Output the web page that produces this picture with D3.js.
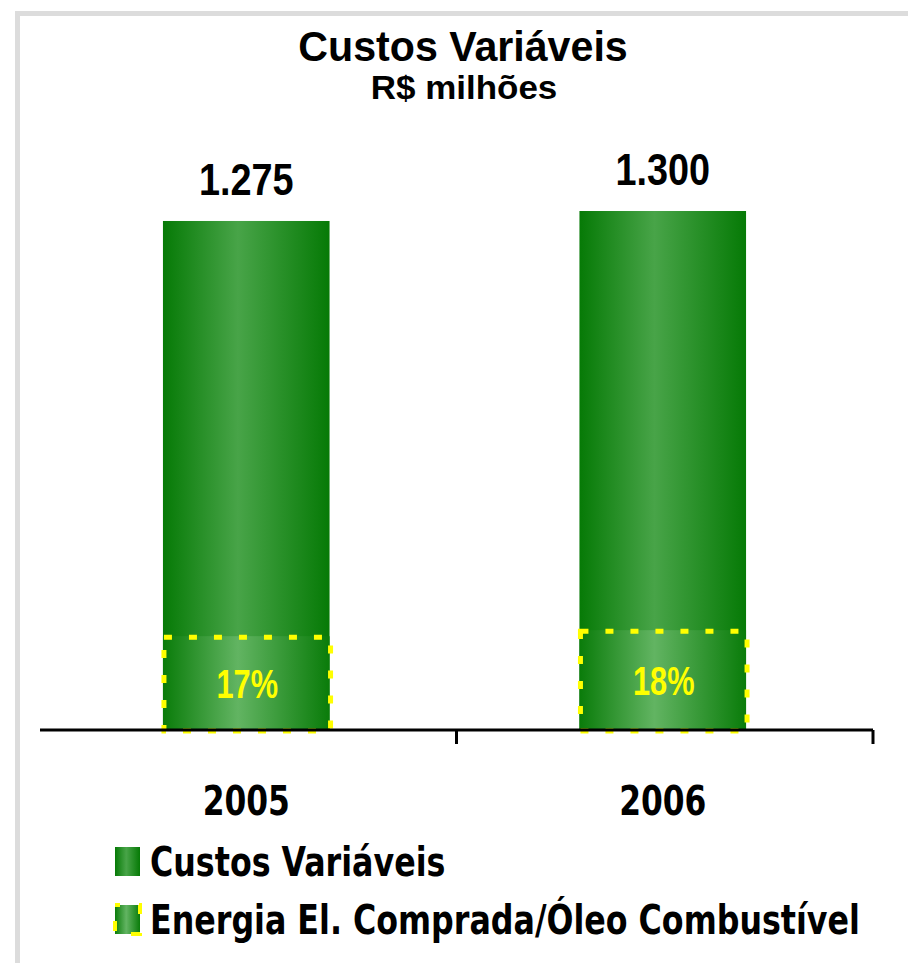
<!DOCTYPE html>
<html>
<head>
<meta charset="utf-8">
<script src="https://cdn.jsdelivr.net/npm/d3@7"></script>
<style>
  html, body { margin: 0; padding: 0; background: #fff; }
  svg { display: block; }
</style>
</head>
<body>
<svg id="chart" width="908" height="963"></svg>
<script>
const years = ["2005", "2006"];
const totals = [1275, 1300];
const totalLabels = ["1.275", "1.300"];
const energia = [235, 250];          // bottom segment, as drawn
const energiaLabels = ["17%", "18%"];
const legendLabels = ["Custos Variáveis", "Energia El. Comprada/Óleo Combustível"];

const svg = d3.select("#chart");
const W = 908, H = 963;

// frame
svg.append("path")
  .attr("d", `M17.5,${H} V13.5 H${W}`)
  .attr("fill", "none")
  .attr("stroke", "#dcdcdc")
  .attr("stroke-width", 5);

// gradients
const defs = svg.append("defs");
function grad(id, edge, mid) {
  const g = defs.append("linearGradient").attr("id", id)
    .attr("x1", "0%").attr("x2", "100%").attr("y1", "0%").attr("y2", "0%");
  g.append("stop").attr("offset", "0%").attr("stop-color", edge);
  g.append("stop").attr("offset", "45%").attr("stop-color", mid);
  g.append("stop").attr("offset", "100%").attr("stop-color", edge);
}
grad("gTop", "#067a06", "#48a448");
grad("gBot", "#0a7c0a", "#62b462");

// titles
svg.append("text")
  .attr("transform", "translate(463,61) scale(0.98,1)")
  .attr("text-anchor", "middle")
  .style("font", "bold 42px 'Liberation Sans', Arial, sans-serif")
  .text("Custos Variáveis");
svg.append("text")
  .attr("transform", "translate(464,99) scale(1.06,1)")
  .attr("text-anchor", "middle")
  .style("font", "bold 33px 'Liberation Sans', Arial, sans-serif")
  .text("R$ milhões");

// scales
const x = d3.scaleBand().domain(years).range([40, 873]).paddingInner(0.6).paddingOuter(0.3);
const y = d3.scaleLinear().domain([0, 1300]).range([730, 211]);

const g = svg.append("g");

g.selectAll(".bar")
  .data(years)
  .enter().append("rect")
  .attr("class", "bar")
  .attr("x", d => x(d) - 2)
  .attr("y", (d, i) => y(totals[i]))
  .attr("width", x.bandwidth())
  .attr("height", (d, i) => y(0) - y(totals[i]))
  .attr("fill", "url(#gTop)");

g.selectAll(".seg")
  .data(years)
  .enter().append("rect")
  .attr("class", "seg")
  .attr("x", d => x(d) - 2)
  .attr("y", (d, i) => y(energia[i]))
  .attr("width", x.bandwidth())
  .attr("height", (d, i) => y(0) - y(energia[i]))
  .attr("fill", "url(#gBot)");

g.selectAll(".segOutline")
  .data(years)
  .enter().append("rect")
  .attr("class", "segOutline")
  .attr("x", d => x(d) - 1)
  .attr("y", (d, i) => y(energia[i]) + 1)
  .attr("width", x.bandwidth())
  .attr("height", (d, i) => y(0) - y(energia[i]))
  .attr("fill", "none")
  .attr("stroke", "#ffff00")
  .attr("stroke-width", 5)
  .attr("stroke-dasharray", "8,17");

// axis
const step = x.step();
const axis = d3.axisBottom(x).tickSize(0).tickFormat("");
const ax = svg.append("g").attr("transform", `translate(0,${y(0)})`).call(axis);
ax.select(".domain").remove();
ax.append("line")
  .attr("x1", 40).attr("x2", 873)
  .attr("stroke", "#000").attr("stroke-width", 3);
ax.selectAll(".sep")
  .data(years)
  .enter().append("line")
  .attr("class", "sep")
  .attr("x1", (d, i) => 40 + step * (i + 1))
  .attr("x2", (d, i) => 40 + step * (i + 1))
  .attr("y1", 0).attr("y2", 14)
  .attr("stroke", "#000").attr("stroke-width", 3);

// category labels
svg.selectAll(".cat")
  .data(years)
  .enter().append("text")
  .attr("class", "cat")
  .attr("transform", d => `translate(${x(d) + x.bandwidth() / 2 - 2},815) scale(0.85,1)`)
  .attr("text-anchor", "middle")
  .style("font", "bold 41px 'DejaVu Sans Condensed', 'DejaVu Sans', sans-serif")
  .text(d => d);

// value labels
svg.selectAll(".val")
  .data(years)
  .enter().append("text")
  .attr("class", "val")
  .attr("transform", (d, i) => `translate(${x(d) + x.bandwidth() / 2 - 2},${y(totals[i]) - 26}) scale(0.86,1)`)
  .attr("text-anchor", "middle")
  .style("font", "bold 44px 'Liberation Sans', Arial, sans-serif")
  .text((d, i) => totalLabels[i]);

// percent labels
svg.selectAll(".pct")
  .data(years)
  .enter().append("text")
  .attr("class", "pct")
  .attr("transform", (d, i) => `translate(${x(d) + x.bandwidth() / 2 - 1},${(y(energia[i]) + y(0)) / 2 + 15}) scale(0.75,1)`)
  .attr("text-anchor", "middle")
  .attr("fill", "#ffff00")
  .style("font", "bold 41px 'Liberation Sans', Arial, sans-serif")
  .text((d, i) => energiaLabels[i]);

// legend
const leg = svg.append("g");
const legY = [847, 905];
leg.selectAll(".sw")
  .data(legendLabels)
  .enter().append("rect")
  .attr("x", 115).attr("y", (d, i) => legY[i])
  .attr("width", 25).attr("height", 29)
  .attr("fill", (d, i) => i === 0 ? "url(#gTop)" : "url(#gBot)");
leg.append("rect")
  .attr("x", 115).attr("y", legY[1])
  .attr("width", 25).attr("height", 29)
  .attr("fill", "none")
  .attr("stroke", "#ffff00").attr("stroke-width", 4)
  .attr("stroke-dasharray", "5,19,5,0");
leg.selectAll(".lt")
  .data(legendLabels)
  .enter().append("text")
  .attr("transform", (d, i) => `translate(150,${legY[i] + 29}) scale(0.86,1)`)
  .style("font", "bold 41px 'DejaVu Sans Condensed', 'DejaVu Sans', sans-serif")
  .text(d => d);
</script>
</body>
</html>
